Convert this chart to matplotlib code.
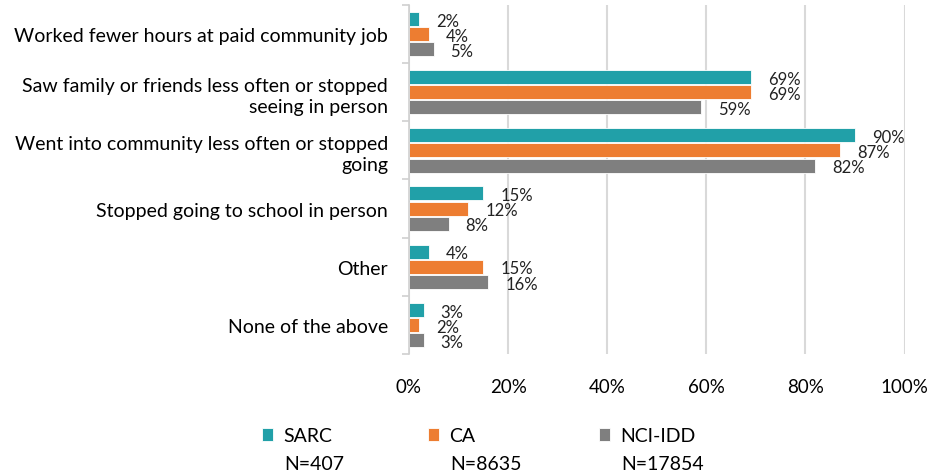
import numpy as np
import matplotlib.pyplot as plt
from matplotlib.ticker import PercentFormatter, FixedLocator

categories = [
    "Worked fewer hours at paid community job",
    "Saw family or friends less often or stopped\nseeing in person",
    "Went into community less often or stopped\ngoing",
    "Stopped going to school in person",
    "Other",
    "None of the above",
]
sarc = [0.02, 0.69, 0.90, 0.15, 0.04, 0.03]
ca = [0.04, 0.69, 0.87, 0.12, 0.15, 0.02]
nci = [0.05, 0.59, 0.82, 0.08, 0.16, 0.03]
series_names = ["SARC", "CA", "NCI-IDD"]
sample_sizes = ["N=407", "N=8635", "N=17854"]
colors = ["#21A0A8", "#ED7D31", "#7F7F7F"]

plt.rcParams['font.family'] = ['Lato', 'DejaVu Sans']

fig = plt.figure(figsize=(9.28, 4.77), dpi=100)
ax = fig.add_axes([0.4407, 0.2558, 0.534, 0.7316])

y = np.arange(len(categories))
h = 0.24
step = 0.26
handles = []
for i, (vals, name, col) in enumerate(zip([sarc, ca, nci], series_names, colors)):
    pos = y + (i - 1) * step
    b = ax.barh(pos, vals, height=h, color=col, edgecolor='white', linewidth=0.6, label=name)
    handles.append(b)
    for p, v in zip(pos, vals):
        ax.text(v + 0.034, p + 0.03, f"{round(v * 100)}%", va='center', ha='left', fontsize=12, color='#222222')

ax.set_ylim(len(categories) - 0.5, -0.5)
ax.set_xlim(0, 1.0)
ax.set_yticks(y)
ax.set_yticklabels(categories, fontsize=14, linespacing=1.3)
ax.yaxis.set_minor_locator(FixedLocator(np.arange(-0.5, len(categories), 1.0)))
ax.tick_params(axis='y', which='major', length=0, pad=15)
ax.tick_params(axis='y', which='minor', length=5, color='#D0D0D0', width=1.2)
ax.set_xticks(np.arange(0, 1.01, 0.2))
ax.xaxis.set_major_formatter(PercentFormatter(1.0, decimals=0))
ax.tick_params(axis='x', length=0, pad=17, labelsize=13.5)
ax.grid(axis='x', color='#D9D9D9', linewidth=1.5)
ax.set_axisbelow(True)
for s in ['top', 'right', 'bottom']:
    ax.spines[s].set_visible(False)
ax.spines['left'].set_color('#D0D0D0')
ax.spines['left'].set_linewidth(1.2)

# legend: first line with marker, sample size on a second line
leg_x = [0.282, 0.461, 0.645]
for hnd, name, n, lx in zip(handles, series_names, sample_sizes, leg_x):
    fig.legend(handles=[hnd], labels=[name], loc='center left', bbox_to_anchor=(lx, 1 - 437 / 477),
               frameon=False, fontsize=14, handlelength=0.6, handleheight=0.6,
               handletextpad=0.5, borderpad=0, borderaxespad=0)
    fig.text(lx + 0.0245, 1 - 465 / 477, n, fontsize=14, va='center', ha='left')

fig.savefig('out.png', dpi=100)
